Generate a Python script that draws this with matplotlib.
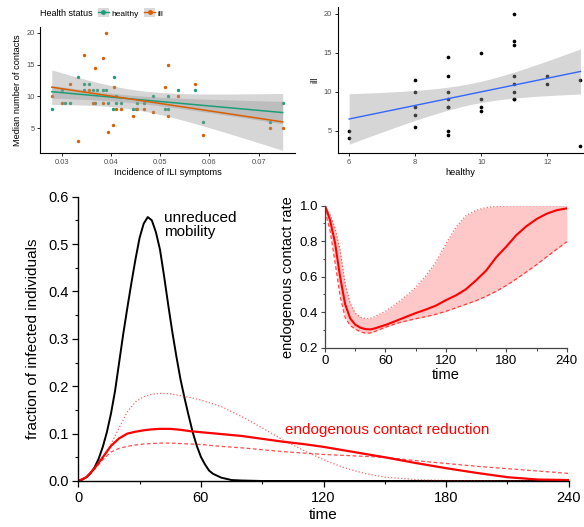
import numpy as np
import matplotlib
matplotlib.use('Agg')
import matplotlib.pyplot as plt
from matplotlib.lines import Line2D
from matplotlib.patches import Patch
from matplotlib.legend_handler import HandlerTuple
from matplotlib.ticker import MultipleLocator

plt.rcParams['font.family'] = ['Liberation Sans', 'DejaVu Sans']

# top left: median contacts vs ILI incidence
inc_healthy = [0.0279, 0.0300, 0.0306, 0.0316, 0.0333, 0.0345, 0.0345, 0.0354, 0.0362, 0.0367,
               0.0371, 0.0383, 0.0389, 0.0393, 0.0403, 0.0406, 0.0410, 0.0410, 0.0419, 0.0445,
               0.0450, 0.0452, 0.0467, 0.0484, 0.0509, 0.0515, 0.0515, 0.0535, 0.0570, 0.0587,
               0.0724, 0.0749]
healthy = [8, 11, 9, 9, 13, 12, 11, 12, 11, 9,
           11, 11, 11, 9, 8, 13, 9, 10, 9, 8,
           8, 9, 9, 10, 8, 8, 10, 11, 11, 6,
           6, 9]
inc_ill = [0.0279, 0.0300, 0.0316, 0.0333, 0.0345, 0.0354, 0.0362, 0.0367, 0.0383, 0.0383,
           0.0389, 0.0393, 0.0403, 0.0406, 0.0410, 0.0419, 0.0445, 0.0452, 0.0467, 0.0484,
           0.0509, 0.0515, 0.0515, 0.0535, 0.0570, 0.0587, 0.0724, 0.0749]
ill = [10, 9, 12, 3, 16.5, 11, 9, 14.5, 16, 9,
       20, 4.5, 5.5, 11.5, 8, 8, 7, 8, 8, 7.5,
       11.5, 15, 7, 10, 12, 4, 5, 5]

# top right: ill vs healthy
pair_healthy = [6, 6, 8, 8, 8, 8, 8, 9, 9, 9, 9, 9, 9, 9, 9, 10, 10, 10, 10,
                11, 11, 11, 11, 11, 11, 11, 11, 12, 12, 13, 13]
pair_ill = [5, 4, 11.5, 10, 8, 7, 5.5, 14.5, 12, 10, 9, 8, 8, 5, 4.5, 15, 9, 8, 7.5,
            20, 16.5, 16, 12, 11, 10, 9, 9, 12, 11, 11.5, 3]

# bottom: fraction infected over time
t_black = [0, 2, 4, 6, 8, 10, 12, 14, 16, 18, 20, 22, 24, 26, 28, 30, 32, 34, 36, 38,
           40, 42, 44, 46, 48, 50, 52, 54, 56, 58, 60, 62, 64, 66, 70, 75, 80, 90, 120, 240]
unreduced = [0, 0.003, 0.008, 0.016, 0.029, 0.047, 0.072, 0.103, 0.142, 0.19, 0.25, 0.31,
             0.365, 0.418, 0.468, 0.513, 0.543, 0.557, 0.55, 0.525, 0.488, 0.432, 0.372,
             0.315, 0.263, 0.215, 0.175, 0.138, 0.103, 0.074, 0.051, 0.035, 0.022, 0.015,
             0.007, 0.002, 0.001, 0.0, 0.0, 0.0]

t_red = [0, 4, 8, 12, 16, 20, 24, 28, 32, 36, 40, 45, 50, 55, 60, 70, 80, 90, 100, 110,
         120, 135, 150, 165, 180, 195, 210, 225, 240]
endo_mean = [0, 0.008, 0.027, 0.05, 0.074, 0.09, 0.1, 0.104, 0.107, 0.109, 0.11, 0.11,
             0.108, 0.105, 0.103, 0.099, 0.095, 0.089, 0.083, 0.078, 0.072, 0.061, 0.05,
             0.038, 0.027, 0.017, 0.008, 0.003, 0.002]
endo_low = [0, 0.008, 0.025, 0.045, 0.061, 0.069, 0.073, 0.076, 0.078, 0.079, 0.08, 0.08,
            0.079, 0.078, 0.077, 0.073, 0.07, 0.066, 0.062, 0.059, 0.056, 0.053, 0.05,
            0.043, 0.037, 0.031, 0.026, 0.021, 0.016]
t_dot = [0, 4, 8, 12, 16, 20, 24, 28, 32, 36, 40, 45, 50, 55, 60, 70, 80, 90, 100, 110,
         120, 130, 140, 150, 165, 180, 240]
endo_high = [0, 0.008, 0.027, 0.05, 0.078, 0.112, 0.146, 0.167, 0.178, 0.183, 0.185, 0.184,
             0.18, 0.176, 0.171, 0.157, 0.136, 0.112, 0.087, 0.065, 0.045, 0.028, 0.016,
             0.008, 0.003, 0.001, 0.0]

# inset: endogenous contact rate
t_rate = [0, 5, 10, 15, 20, 25, 30, 35, 40, 45, 50, 60, 70, 80, 90, 100, 110, 120, 130,
          140, 150, 160, 170, 180, 190, 200, 210, 220, 230, 240]
rate_mean = [1.0, 0.92, 0.79, 0.6, 0.445, 0.365, 0.33, 0.313, 0.305, 0.303, 0.31, 0.328,
             0.35, 0.373, 0.395, 0.415, 0.437, 0.468, 0.495, 0.53, 0.58, 0.635, 0.71, 0.77,
             0.835, 0.885, 0.925, 0.955, 0.975, 0.985]
rate_high = [1.0, 0.95, 0.875, 0.75, 0.56, 0.45, 0.395, 0.372, 0.365, 0.365, 0.377, 0.405,
             0.445, 0.49, 0.54, 0.605, 0.682, 0.785, 0.88, 0.945, 0.975, 0.99, 0.997, 1.0,
             1.0, 1.0, 1.0, 1.0, 1.0, 1.0]
rate_low = [0.97, 0.86, 0.68, 0.49, 0.37, 0.325, 0.305, 0.29, 0.282, 0.283, 0.293, 0.315,
            0.335, 0.35, 0.363, 0.375, 0.388, 0.405, 0.425, 0.445, 0.465, 0.49, 0.518, 0.551,
            0.588, 0.627, 0.668, 0.712, 0.755, 0.797]

teal = '#1B9E77'
orange = '#D95F02'


def lm_band(x, y, t_crit=2.05):
    x = np.asarray(x, float)
    y = np.asarray(y, float)
    b, a = np.polyfit(x, y, 1)
    xs = np.linspace(x.min(), x.max(), 80)
    n = len(x)
    s = np.sqrt(np.sum((y - (a + b * x)) ** 2) / (n - 2))
    se = s * np.sqrt(1 / n + (xs - x.mean()) ** 2 / np.sum((x - x.mean()) ** 2))
    fit = a + b * xs
    return xs, fit, fit - t_crit * se, fit + t_crit * se


def gg_axes(ax):
    for s in ['top', 'right']:
        ax.spines[s].set_visible(False)
    for s in ['left', 'bottom']:
        ax.spines[s].set_linewidth(0.8)
    ax.tick_params(length=2.5, width=0.6, labelsize=5.4, labelcolor='#4D4D4D', pad=1.5)


fig = plt.figure(figsize=(5.84, 5.27), dpi=100)

# ---- top left
ax1 = fig.add_axes([0.0685, 0.7097, 0.4366, 0.239])
for xv, yv, c in [(inc_healthy, healthy, teal), (inc_ill, ill, orange)]:
    xs, fit, lo, hi = lm_band(xv, yv)
    ax1.scatter(xv, yv, s=6, color=c, zorder=2, linewidths=0)
    ax1.fill_between(xs, lo, hi, color='#999999', alpha=0.4, lw=0, zorder=3)
    ax1.plot(xs, fit, color=c, lw=1.1, zorder=4)
ax1.set_xlim(0.0255, 0.0774)
ax1.set_ylim(1.14, 20.87)
ax1.set_xticks([0.03, 0.04, 0.05, 0.06, 0.07])
ax1.set_yticks([5, 10, 15, 20])
gg_axes(ax1)
ax1.set_xlabel('Incidence of ILI symptoms', fontsize=6.7, labelpad=2)
ax1.set_ylabel('Median number of contacts', fontsize=6.7, labelpad=3)

fig.text(40 / 584, 1 - 13 / 527, 'Health status', fontsize=6.5, va='center')
handles = [(Patch(facecolor='#D9D9D9', edgecolor='none'),
            Line2D([], [], color=teal, lw=1, marker='o', ms=2.5)),
           (Patch(facecolor='#D9D9D9', edgecolor='none'),
            Line2D([], [], color=orange, lw=1, marker='o', ms=2.5))]
fig.legend(handles, ['healthy', 'ill'], ncol=2, loc='center left',
           bbox_to_anchor=(98 / 584, 1 - 13 / 527), frameon=False, fontsize=6,
           handlelength=1.3, handleheight=1.3, columnspacing=0.6, handletextpad=0.35,
           borderpad=0, borderaxespad=0, handler_map={tuple: HandlerTuple(ndivide=1)})

# ---- top right
ax2 = fig.add_axes([0.578, 0.7097, 0.4216, 0.277])
xs, fit, lo, hi = lm_band(pair_healthy, pair_ill)
ax2.scatter(pair_healthy, pair_ill, s=7, color='black', zorder=2, linewidths=0)
ax2.fill_between(xs, lo, hi, color='#999999', alpha=0.4, lw=0, zorder=3)
ax2.plot(xs, fit, color='#3366FF', lw=1, zorder=4)
ax2.set_xlim(5.65, 13.1)
ax2.set_ylim(2.14, 20.86)
ax2.set_xticks([6, 8, 10, 12])
ax2.set_yticks([5, 10, 15, 20])
gg_axes(ax2)
ax2.set_xlabel('healthy', fontsize=6.7, labelpad=2)
ax2.set_ylabel('ill', fontsize=6.7, labelpad=3)

# ---- bottom main
axm = fig.add_axes([0.134, 0.0873, 0.840, 0.5395])
axm.plot(t_black, unreduced, color='black', lw=1.4)
axm.plot(t_dot, endo_high, color='#FF0000', lw=0.9, ls=':', alpha=0.6)
axm.plot(t_red, endo_low, color='#FF0000', lw=0.9, ls='--', dashes=(3, 2), alpha=0.7)
axm.plot(t_red, endo_mean, color='#FF0000', lw=1.6)
axm.set_xlim(0, 240)
axm.set_ylim(0, 0.6)
axm.xaxis.set_major_locator(MultipleLocator(60))
axm.xaxis.set_minor_locator(MultipleLocator(30))
axm.yaxis.set_major_locator(MultipleLocator(0.1))
axm.yaxis.set_minor_locator(MultipleLocator(0.05))
axm.yaxis.set_major_formatter(matplotlib.ticker.FormatStrFormatter('%.1f'))
for s in ['top', 'right']:
    axm.spines[s].set_visible(False)
for s in ['left', 'bottom']:
    axm.spines[s].set_linewidth(1.0)
axm.tick_params(which='major', direction='out', length=4, width=0.9, labelsize=10.5, pad=3)
axm.tick_params(which='minor', direction='out', length=2.2, width=0.8)
axm.set_xlabel('time', fontsize=11, labelpad=2.5)
axm.set_ylabel('fraction of infected individuals', fontsize=11, labelpad=6)
axm.text(41.8, 0.569, 'unreduced\nmobility', fontsize=11, va='top', ha='left', linespacing=1.0)
axm.text(101.3, 0.108, 'endogenous contact reduction', fontsize=11, va='center',
         ha='left', color='#FF0000')

# ---- inset
axi = fig.add_axes([0.5565, 0.3402, 0.414, 0.2694])
axi.fill_between(t_rate, rate_low, rate_high, color='#FFC8C8', lw=0)
axi.plot(t_rate, rate_high, color='#FF0000', lw=0.9, ls=':', alpha=0.6)
axi.plot(t_rate, rate_low, color='#FF0000', lw=0.9, ls='--', dashes=(3, 2), alpha=0.7)
axi.plot(t_rate, rate_mean, color='#FF0000', lw=1.5)
axi.set_xlim(0, 240)
axi.set_ylim(0.2, 1.0)
axi.xaxis.set_major_locator(MultipleLocator(60))
axi.xaxis.set_minor_locator(MultipleLocator(30))
axi.yaxis.set_major_locator(MultipleLocator(0.2))
axi.yaxis.set_minor_locator(MultipleLocator(0.1))
axi.yaxis.set_major_formatter(matplotlib.ticker.FormatStrFormatter('%.1f'))
for s in ['top', 'right']:
    axi.spines[s].set_visible(False)
for s in ['left', 'bottom']:
    axi.spines[s].set_linewidth(0.9)
    axi.spines[s].set_color('#444444')
axi.tick_params(which='major', direction='out', length=3, width=0.8, labelsize=9.5, pad=2,
                color='#444444')
axi.tick_params(which='minor', direction='out', length=1.8, width=0.7, color='#444444')
axi.set_xlabel('time', fontsize=10.5, labelpad=1)
axi.set_ylabel('endogenous contact rate', fontsize=10.5, labelpad=3)

fig.savefig('out.png', dpi=100)
